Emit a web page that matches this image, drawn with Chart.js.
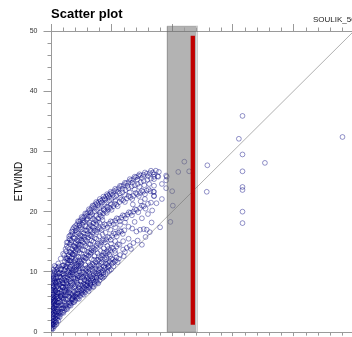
<!DOCTYPE html>
<html>
<head>
<meta charset="utf-8">
<script src="https://cdn.jsdelivr.net/npm/chart.js@4.4.1/dist/chart.umd.min.js"></script>
<style>
  html, body { margin: 0; padding: 0; overflow: hidden; background: #fff; }
  #wrap { width: 360px; height: 337px; }
</style>
</head>
<body>
<div id="wrap"><canvas id="scatter" width="360" height="337"></canvas></div>
<script>
// axis range / ticks
const axisMin = 0;
const axisMax = 50;
const majorStep = 10;
const minorStep = 2;

// shaded column and red marker (data units)
const shadeX = [19.1, 24.0];
const shadeY = [0, 50.8];
const markerX = 23.4;
const markerY = [1.2, 49.2];

// 1:1 reference line
const oneToOne = [0, 50];

// point cloud
const bandTop1 = [[2.4,13.8],[2.6,14.3],[2.8,14.9],[3.0,15.5],[3.2,16.1],[3.4,16.7],[3.6,17.1],[3.8,17.4],[4.0,17.6],[4.3,17.9],[4.6,18.3],[4.9,18.6],[5.2,18.9],[5.5,19.2],[5.8,19.6],[6.1,19.9],[6.4,20.2],[6.7,20.6],[7.0,20.9],[7.3,21.2],[7.6,21.4],[7.9,21.6],[8.2,21.8],[8.5,22.0],[8.8,22.2],[9.1,22.5],[9.4,22.7],[9.7,22.9],[10.0,23.1],[10.4,23.4],[10.8,23.6],[11.2,23.9],[11.6,24.2],[12.0,24.4],[12.4,24.7],[12.8,24.9],[13.2,25.2],[13.6,25.4],[14.0,25.7],[14.4,25.9],[14.8,26.0],[15.3,26.1],[15.8,26.3],[16.3,26.4],[16.8,26.5],[17.3,26.8],[17.8,26.6]];
const bandTop2 = [[2.2,12.8],[2.5,13.4],[2.8,14.0],[3.1,14.6],[3.4,15.2],[3.7,15.7],[4.0,16.2],[4.3,16.6],[4.6,17.0],[4.9,17.4],[5.2,17.8],[5.6,18.3],[6.0,18.8],[6.4,19.2],[6.8,19.6],[7.2,20.0],[7.6,20.3],[8.0,20.6],[8.4,20.9],[8.8,21.2],[9.2,21.5],[9.6,21.8],[10.0,22.1],[10.4,22.4],[10.8,22.7],[11.3,23.0],[11.8,23.2],[12.3,23.6],[12.8,23.9],[13.3,24.2],[13.8,24.4],[14.3,24.6],[14.8,24.9],[15.3,25.1],[15.9,25.3],[16.5,25.5],[17.0,25.8],[17.6,25.9]];
const thickTop = [[3.15,15.3],[3.55,16.6],[4.15,17.3],[4.45,18.4],[4.75,18.0],[5.05,19.1],[5.35,18.6],[5.65,19.7],[5.95,19.3],[6.25,20.4],[6.55,19.9],[6.85,21.0],[7.15,20.6],[7.45,21.6],[7.75,21.1],[8.05,22.1],[8.35,21.5],[8.65,22.5],[8.95,22.0],[9.25,22.9],[9.55,22.4],[9.85,23.3],[10.2,22.8],[10.6,23.8],[11.0,23.3],[11.4,24.3],[11.8,23.8],[12.2,24.8],[12.6,24.3],[13.0,25.4],[13.4,24.8],[13.8,25.8],[14.2,25.3],[14.6,26.2],[15.0,25.6],[15.5,26.5],[16.0,25.9],[16.5,26.8],[17.0,26.2]];
const bandB = [[0.8,8.2],[1.1,9.0],[1.4,9.8],[1.7,10.5],[2.0,11.1],[2.3,11.7],[2.6,12.3],[2.9,12.8],[3.2,13.3],[3.5,13.8],[3.8,14.3],[4.1,14.8],[4.4,15.2],[4.7,15.6],[5.0,16.0],[5.4,16.4],[5.8,16.9],[6.2,17.3],[6.6,17.7],[7.0,18.1],[7.4,18.5],[7.8,18.9],[8.2,19.3],[8.6,19.7],[9.0,20.0],[9.4,20.3],[9.8,20.6],[10.3,20.9],[10.8,21.2],[11.3,21.6],[11.9,21.9],[12.5,22.2],[13.1,22.4],[13.6,22.6],[14.2,22.9],[14.7,23.1],[15.2,23.3],[15.8,23.5],[16.4,23.4],[17.0,23.3],[17.0,24.3]];
const thickB = [[1.25,9.7],[1.55,9.9],[1.85,11.0],[2.15,11.1],[2.45,12.2],[2.75,12.2],[3.05,13.3],[3.35,13.2],[3.65,14.3],[3.95,14.2],[4.25,15.3],[4.55,15.1],[4.85,16.1],[5.2,15.9],[5.6,16.9],[6.0,16.8],[6.4,17.8],[6.8,17.5],[7.2,18.6],[7.6,18.3],[8.0,19.5],[8.4,19.1],[8.8,20.2],[9.2,19.8],[9.6,20.7],[10.0,20.3],[10.5,21.3],[11.0,20.9],[11.6,22.0],[12.2,21.6],[12.8,22.6],[13.4,22.1],[14.0,23.1],[14.5,22.6],[15.0,23.5],[15.5,22.9],[16.1,23.7]];
const bandC = [[0.7,6.8],[1.0,7.6],[1.3,8.4],[1.6,9.1],[1.9,9.7],[2.2,10.3],[2.5,10.9],[2.8,11.4],[3.1,11.9],[3.4,12.4],[3.7,12.9],[4.0,13.3],[4.3,13.7],[4.6,14.1],[4.9,14.5],[5.3,14.9],[5.7,15.3],[6.1,15.7],[6.5,16.1],[6.9,16.5],[7.3,16.8],[7.7,17.0],[8.1,17.2],[8.6,17.5],[9.1,17.8],[9.6,18.0],[10.1,18.3],[10.6,18.5],[11.1,18.8],[11.6,19.0],[12.1,19.3],[12.6,19.5],[13.1,19.8],[13.6,20.0],[14.1,20.3],[14.7,20.6],[15.3,20.9],[16.0,21.3],[16.5,21.5],[17.0,22.6]];
const thickC = [[1.15,8.3],[1.45,8.5],[1.75,9.6],[2.05,9.7],[2.35,10.8],[2.65,10.8],[2.95,11.9],[3.25,11.9],[3.55,12.9],[3.85,12.8],[4.15,13.8],[4.45,13.6],[4.75,14.5],[5.1,14.4],[5.5,15.4],[5.9,15.1],[6.3,16.1],[6.7,15.9],[7.1,16.9],[7.5,16.6],[7.9,17.4],[8.35,17.0],[8.85,17.9],[9.35,17.4],[9.85,18.4],[10.35,17.9],[10.85,18.9],[11.35,18.4],[11.85,19.4],[12.35,18.9],[12.85,19.9],[13.35,19.4],[13.85,20.4],[14.4,19.9],[15.0,21.0],[15.6,20.5]];
const bandD = [[0.6,5.2],[0.9,5.9],[1.2,6.5],[1.5,7.1],[1.8,7.6],[2.1,8.1],[2.4,8.6],[2.7,9.1],[3.0,9.5],[3.3,9.9],[3.6,10.3],[3.9,10.7],[4.2,11.0],[4.5,11.4],[4.8,11.7],[5.1,12.0],[5.5,12.4],[5.9,12.8],[6.3,13.2],[6.7,13.6],[7.1,13.9],[7.5,14.3],[7.9,14.6],[8.3,14.9],[8.7,15.2],[9.1,15.4],[9.6,15.7],[10.1,16.0],[10.6,16.3],[11.1,16.5],[11.6,16.7],[12.1,16.9],[12.8,17.5],[13.4,17.2],[14.1,16.7],[14.7,17.0],[15.3,17.1],[15.8,17.0]];
const thickD = [[1.05,6.6],[1.35,6.5],[1.65,7.6],[1.95,7.5],[2.25,8.6],[2.55,8.5],[2.85,9.6],[3.15,9.4],[3.45,10.4],[3.75,10.2],[4.05,11.2],[4.35,10.9],[4.65,11.9],[4.95,11.6],[5.3,12.5],[5.7,12.3],[6.1,13.3],[6.5,13.0],[6.9,14.0],[7.3,13.7],[7.7,14.7],[8.1,14.4],[8.5,15.3],[8.9,14.9],[9.35,15.8],[9.85,15.3],[10.35,16.4],[10.85,15.9],[11.35,16.8],[11.85,16.3]];
const bandE = [[0.5,3.9],[0.8,4.4],[1.1,4.9],[1.4,5.4],[1.7,5.8],[2.0,6.2],[2.3,6.6],[2.6,7.0],[2.9,7.4],[3.2,7.7],[3.5,8.1],[3.8,8.4],[4.1,8.7],[4.4,9.0],[4.7,9.3],[5.0,9.6],[5.4,9.9],[5.8,10.2],[6.2,10.6],[6.6,10.9],[7.0,11.2],[7.4,11.6],[7.8,12.0],[8.2,12.3],[8.6,12.7],[9.0,13.0],[9.4,13.3],[9.8,13.6],[10.3,13.9],[10.8,14.2],[11.3,14.5],[11.9,15.1],[11.9,13.7],[12.5,14.0],[13.0,14.3]];
const thickE = [[0.95,5.0],[1.25,4.9],[1.55,5.9],[1.85,5.7],[2.15,6.7],[2.45,6.5],[2.75,7.5],[3.05,7.3],[3.35,8.2],[3.65,7.9],[3.95,8.9],[4.25,8.5],[4.55,9.4],[4.85,9.1],[5.2,10.0],[5.6,9.7],[6.0,10.7],[6.4,10.3],[6.8,11.3],[7.2,11.0],[7.6,12.0],[8.0,11.7],[8.4,12.7],[8.8,12.3],[9.2,13.4],[9.6,12.9],[10.05,14.0],[10.55,13.5],[11.05,14.6]];
const bandG = [[0.6,2.8],[1.0,3.4],[1.4,4.0],[1.8,4.5],[2.2,5.0],[2.6,5.4],[3.0,5.9],[3.4,6.3],[3.8,6.7],[4.2,7.0],[4.6,7.4],[5.0,7.8],[5.4,8.1],[5.8,8.5],[6.2,8.8],[6.6,9.2],[7.0,9.5],[7.4,9.8],[7.8,10.2],[8.2,10.5],[8.7,10.9],[9.2,11.3],[9.7,11.7],[10.2,12.1],[10.8,12.4],[11.4,12.8]];
const thickG = [[0.8,3.4],[1.2,3.5],[1.6,4.5],[2.0,4.5],[2.4,5.5],[2.8,5.5],[3.2,6.4],[3.6,6.3],[4.0,7.2],[4.4,7.0],[4.8,7.9],[5.2,7.7],[5.6,8.6],[6.0,8.4],[6.4,9.3],[6.8,9.0],[7.2,10.0],[7.6,9.7],[8.0,10.6],[8.45,10.3],[8.95,11.4],[9.45,11.0],[9.95,12.2],[10.5,11.7]];
const bandF = [[0.4,1.4],[0.7,1.8],[1.0,2.2],[1.3,2.6],[1.6,3.0],[1.9,3.3],[2.2,3.6],[2.5,3.9],[2.8,4.2],[3.1,4.5],[3.4,4.8],[3.7,5.0],[4.0,5.3],[4.4,5.6],[4.8,6.0],[5.2,6.3],[5.6,6.6],[6.0,7.0],[6.4,7.3],[6.8,7.6],[7.2,8.0],[7.6,8.3],[8.0,8.6],[8.5,9.0],[9.0,9.6],[9.6,10.2],[10.3,10.9],[11.0,11.6],[12.0,12.6],[13.2,13.8],[15.0,14.5],[16.3,16.6],[18.0,17.4]];
const thickF = [[0.55,1.9],[0.85,1.7],[1.15,2.7],[1.45,2.5],[1.75,3.4],[2.05,3.2],[2.35,4.1],[2.65,3.8],[2.95,4.7],[3.25,4.4],[3.55,5.3],[3.85,5.0],[4.2,5.8],[4.6,5.5],[5.0,6.5],[5.4,6.2],[5.8,7.1],[6.2,6.8],[6.6,7.8],[7.0,7.5],[7.4,8.4],[7.8,8.1],[8.25,9.1],[8.75,9.2],[9.3,10.0],[9.9,10.4]];
const fillUpper = [[3.3,14.9],[3.9,15.6],[4.5,16.4],[5.1,17.1],[5.7,17.6],[6.3,18.2],[6.9,18.8],[7.5,19.4],[8.1,19.9],[8.7,20.4],[9.3,20.8],[9.9,21.2],[10.6,21.8],[11.4,22.3],[12.2,22.8],[13.0,23.2],[13.8,23.7],[14.6,24.1],[15.4,24.4],[16.2,24.6]];
const fillMid = [[1.5,8.0],[2.0,8.9],[2.5,9.7],[3.0,10.5],[3.5,11.2],[4.0,11.9],[4.5,12.5],[5.0,13.0],[5.5,13.6],[6.0,14.1],[6.5,14.6],[7.0,15.0],[7.5,15.5],[8.0,15.9],[8.5,16.2],[9.0,16.5],[9.8,17.0],[10.6,17.4],[11.4,17.8],[12.2,18.2]];
const fillLow = [[1.2,5.6],[1.7,6.3],[2.2,7.0],[2.7,7.8],[3.2,8.4],[3.7,9.0],[4.2,9.6],[4.7,10.1],[5.2,10.6],[5.7,11.1],[6.2,11.6],[6.7,12.1],[7.2,12.6],[7.7,13.1],[8.2,13.5],[8.7,13.9],[9.3,14.3],[9.9,14.7],[10.6,15.1]];
const fillBottom = [[1.0,2.8],[1.5,3.4],[2.0,4.0],[2.5,4.5],[3.0,5.0],[3.5,5.5],[4.0,6.0],[4.5,6.4],[5.0,6.9],[5.5,7.3],[6.0,7.8],[6.5,8.2],[7.0,8.6],[7.5,9.0],[8.0,9.5],[8.6,9.9],[9.3,10.5],[10.0,11.3],[10.7,11.9]];
const lowerFill = [[1.3,3.1],[1.8,3.9],[2.3,4.4],[2.1,5.6],[2.6,6.2],[3.0,6.6],[3.4,5.4],[3.8,5.9],[3.9,7.4],[4.3,6.4],[4.5,7.9],[4.9,8.4],[5.3,6.8],[5.1,9.0],[5.6,7.9],[5.9,9.0],[6.2,7.4],[6.3,9.7],[6.6,8.6],[6.9,10.1],[7.1,8.3],[7.3,10.5],[7.6,9.4],[7.9,11.1],[8.2,9.2],[8.4,11.6],[8.8,10.4],[9.1,12.0],[9.5,10.8],[9.8,12.6],[10.2,11.5],[10.6,13.1],[1.6,6.0],[2.0,7.4],[2.5,8.1],[2.9,8.7],[3.3,9.3],[3.8,10.0],[4.2,10.4],[4.6,11.0],[5.0,11.4],[5.4,11.9],[5.8,12.3],[6.2,12.7],[6.6,13.2],[7.0,13.5],[1.9,8.2],[2.3,9.0],[2.7,10.1],[3.2,10.8],[3.7,11.7],[4.2,12.4],[4.7,13.2],[5.2,13.6],[5.7,14.3],[6.2,14.6],[6.7,15.2],[7.2,15.6]];
const lowerFill2 = [[3.2,4.9],[3.6,5.7],[4.1,6.2],[4.4,5.9],[4.7,6.8],[5.1,6.5],[5.4,7.5],[5.8,7.7],[6.1,8.2],[6.5,8.0],[6.8,8.9],[7.2,9.1],[7.5,8.6],[7.9,9.8],[8.3,10.0],[8.6,9.5],[9.0,10.7],[9.4,11.5],[3.5,9.9],[4.0,10.3],[4.4,9.3],[4.8,10.6],[5.3,9.2],[5.7,10.5],[6.0,9.3],[6.4,11.1],[6.8,10.4],[7.1,12.0],[7.5,11.0],[7.9,12.6],[8.3,11.4],[8.7,13.2],[9.1,12.4],[9.5,13.8],[3.0,12.5],[3.5,13.0],[4.0,14.0],[4.5,14.6],[5.0,15.2],[5.5,15.8],[6.0,16.3],[6.5,16.9],[7.0,17.4],[7.5,17.9],[8.0,18.2],[8.5,18.6],[2.6,14.9],[3.0,15.9],[3.5,16.2],[4.1,16.9],[4.7,17.7],[5.3,18.2],[5.9,18.6],[6.6,19.3]];
const fillRight = [[13.5,21.2],[14.8,21.7],[15.5,22.1],[16.0,19.6],[15.0,18.9],[13.8,18.3],[16.6,18.2],[14.3,15.2],[15.6,15.8],[12.8,15.5],[13.6,14.8],[12.2,13.3],[11.2,12.2],[17.4,21.4],[18.3,22.1],[16.7,20.2]];
const originBlob = [[0.2,1.8],[0.4,2.6],[0.6,3.6],[0.3,4.0],[0.7,4.6],[0.4,5.4],[0.8,5.8],[0.3,6.4],[0.7,6.9],[0.4,7.6],[0.8,8.0],[0.5,8.9],[0.9,9.2],[0.6,9.9],[1.0,10.0],[1.1,6.0],[1.2,7.2],[1.3,8.0],[1.4,9.2],[1.5,10.4],[1.1,3.8],[1.3,4.4],[1.5,5.0],[1.7,6.7],[1.9,7.4],[1.8,8.6],[2.1,9.4],[2.4,10.5],[2.7,11.9],[2.0,5.4],[2.3,6.1],[2.4,7.5],[2.6,8.3],[2.9,9.9],[3.1,10.9],[3.3,11.6],[2.8,6.5],[3.1,7.0],[3.3,8.9],[3.6,9.6],[3.9,11.5],[4.1,12.1],[3.6,6.0],[4.0,7.6],[4.3,8.2],[4.6,10.5],[4.9,11.0],[5.2,7.1],[5.5,8.7],[5.8,9.5],[6.1,10.0],[6.4,7.7],[0.1,0.7],[0.25,0.9],[0.5,1.3],[0.8,1.6],[0.2,2.4],[0.35,3.5],[0.55,5.0],[0.45,6.2]];
const originCore = [[0.1,0.4],[0.35,0.6],[0.6,1.0],[0.9,1.3],[1.2,1.9],[0.15,1.3],[0.4,1.7],[0.7,2.3],[0.95,2.6],[0.3,2.9],[0.8,3.0],[0.2,3.6],[0.5,4.1],[0.9,3.9],[0.15,4.4],[0.6,4.4],[1.0,4.5],[0.35,5.2],[0.7,5.3],[1.0,5.5],[0.2,5.7],[0.55,5.6],[0.9,6.3],[0.3,6.9],[0.65,6.5],[1.0,7.0],[0.2,7.3],[0.5,7.7],[0.85,7.4],[0.3,8.1],[0.65,8.3],[1.0,8.4],[0.2,8.5],[0.45,9.0],[0.8,9.0],[0.35,9.5],[0.55,10.1],[0.8,10.8],[1.1,10.6],[1.3,10.9]];
const nearAxis = [[0.05,1.0],[0.1,1.5],[0.15,2.0],[0.1,2.5],[0.2,3.0],[0.05,3.4],[0.15,3.8],[0.25,4.2],[0.1,4.6],[0.2,5.0],[0.05,5.4],[0.3,5.8],[0.15,6.2],[0.25,6.6],[0.1,7.0],[0.35,7.4],[0.2,7.8],[0.3,8.3],[0.15,8.8],[0.4,9.3],[0.25,9.8],[0.45,10.4],[0.6,11.0],[0.3,1.2],[0.4,2.2],[0.5,3.2],[0.45,4.8],[0.5,6.0],[0.6,7.2],[0.55,8.6],[0.7,9.6],[0.9,10.4],[1.2,11.4],[1.6,12.2],[2.0,13.0]];
const outliers = [[31.6,35.9],[31.0,32.1],[31.6,29.5],[35.3,28.1],[48.1,32.4],[22.0,28.3],[25.8,27.7],[31.6,26.7],[31.6,24.1],[31.6,23.6],[31.6,20.0],[31.6,18.1],[25.7,23.3],[20.1,21.0],[19.7,18.3],[21.0,26.6],[22.8,26.7],[20.0,23.4],[19.0,26.0],[19.1,25.8],[19.0,25.2],[18.3,24.6],[19.0,23.9],[17.0,25.4],[17.7,25.8],[16.9,23.3],[17.0,22.6]];

const allPoints = [].concat(bandTop1, bandTop2, thickTop, bandB, thickB, bandC, thickC, bandD, thickD,
    bandE, thickE, bandG, thickG, bandF, thickF, fillUpper, fillMid, fillLow, fillBottom, lowerFill,
    lowerFill2, fillRight, originBlob, originCore, nearAxis, outliers)
  .map(p => ({x: p[0], y: p[1]}));

const axisGrey = '#9a9a9a';
const fontFam = '"Liberation Sans", Arial, Helvetica, sans-serif';

// shaded column, red marker, minor ticks, titles
const decor = {
  id: 'decor',
  afterDatasetsDraw(chart) {
    const {ctx, scales: {x, y}} = chart;
    ctx.save();
    const l = x.getPixelForValue(shadeX[0]), r = x.getPixelForValue(shadeX[1]);
    const t = y.getPixelForValue(shadeY[1]), b = y.getPixelForValue(shadeY[0]);
    ctx.fillStyle = 'rgba(110,110,110,0.52)';
    ctx.fillRect(l, t, r - l, b - t);
    ctx.strokeStyle = 'rgba(90,90,90,0.3)';
    ctx.lineWidth = 1;
    ctx.strokeRect(Math.round(l) + 0.5, t, Math.round(r - l), b - t);

    ctx.strokeStyle = '#c00000';
    ctx.lineWidth = 4.3;
    ctx.beginPath();
    ctx.moveTo(x.getPixelForValue(markerX), y.getPixelForValue(markerY[0]));
    ctx.lineTo(x.getPixelForValue(markerX), y.getPixelForValue(markerY[1]));
    ctx.stroke();
    ctx.restore();
  },
  afterDraw(chart) {
    const {ctx, chartArea: a, scales: {x, y}} = chart;
    ctx.save();
    ctx.strokeStyle = axisGrey;
    ctx.lineWidth = 1;
    ctx.beginPath();
    for (let v = axisMin; v <= axisMax; v += minorStep) {
      if (v % majorStep === 0) continue;
      const py = Math.round(y.getPixelForValue(v)) + 0.5;
      ctx.moveTo(a.left - 3.5, py); ctx.lineTo(a.left, py);
      const px = Math.round(x.getPixelForValue(v)) + 0.5;
      ctx.moveTo(px, a.top - 3.5); ctx.lineTo(px, a.top);
      ctx.moveTo(px, a.bottom); ctx.lineTo(px, a.bottom + 3.5);
    }
    ctx.stroke();

    ctx.fillStyle = '#000';
    ctx.textBaseline = 'alphabetic';
    ctx.textAlign = 'left';
    ctx.font = 'bold 13px ' + fontFam;
    ctx.fillText('Scatter plot', a.left, 18);
    ctx.fillStyle = '#222';
    ctx.font = '8px ' + fontFam;
    ctx.fillText('SOULIK_500', 313, 22);
    ctx.restore();
  }
};

new Chart(document.getElementById('scatter'), {
  type: 'scatter',
  data: {
    datasets: [{
      data: allPoints,
      order: 1,
      pointStyle: 'circle',
      pointRadius: 2.4,
      pointBorderWidth: 0.9,
      borderColor: 'rgba(0,0,128,0.48)',
      backgroundColor: 'rgba(0,0,0,0)'
    }, {
      type: 'line',
      data: oneToOne.map(v => ({x: v, y: v})),
      order: 2,
      borderColor: '#b0b0b0',
      borderWidth: 1,
      pointRadius: 0
    }]
  },
  plugins: [decor],
  options: {
    responsive: false,
    animation: false,
    devicePixelRatio: 1,
    layout: {padding: {left: 0, right: 6, top: 0, bottom: 0}},
    plugins: {legend: {display: false}, title: {display: false}, tooltip: {enabled: false}},
    scales: {
      x: {
        type: 'linear', position: 'bottom', min: axisMin, max: axisMax,
        ticks: {stepSize: majorStep, display: false},
        grid: {drawOnChartArea: false, tickLength: 4, color: axisGrey},
        border: {color: axisGrey},
        afterFit: s => { s.paddingLeft = 0; s.paddingRight = 0; }
      },
      x2: {
        type: 'linear', position: 'top', min: axisMin, max: axisMax,
        ticks: {stepSize: majorStep, display: false},
        grid: {drawOnChartArea: false, tickLength: 7, color: axisGrey},
        border: {color: axisGrey},
        afterFit: s => { s.height = 31; s.paddingLeft = 0; s.paddingRight = 0; }
      },
      y: {
        type: 'linear', position: 'left', min: axisMin, max: axisMax,
        ticks: {stepSize: majorStep, padding: 6, color: '#333', font: {size: 7, family: fontFam}},
        grid: {drawOnChartArea: false, tickLength: 7.5, color: axisGrey},
        border: {color: axisGrey},
        title: {display: true, text: 'ETWIND', color: '#111', font: {size: 10, family: fontFam, lineHeight: 1.2}, padding: {top: 13, bottom: 0}},
        afterFit: s => { s.width = 51; s.paddingTop = 0; s.paddingBottom = 0; }
      }
    }
  }
});
</script>
</body>
</html>
